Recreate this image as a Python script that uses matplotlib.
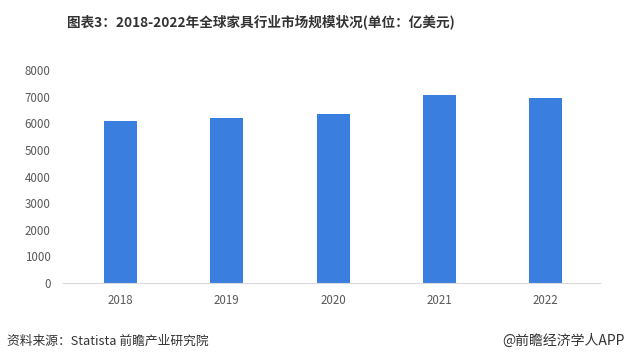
import matplotlib.pyplot as plt

plt.rcParams['font.family'] = ['Noto Sans CJK SC', 'DejaVu Sans']

# 2018-2022 global furniture market size (100m USD)
years = ['2018', '2019', '2020', '2021', '2022']
market_size = [6100, 6220, 6350, 7070, 6940]
yticks = [0, 1000, 2000, 3000, 4000, 5000, 6000, 7000, 8000]

fig = plt.figure(figsize=(6.27, 3.62), dpi=100)
ax = fig.add_axes([0.1005, 0.218, 0.8565, 0.588])

ax.bar(range(len(years)), market_size, width=0.31, color='#3a7fe0')

ax.set_xlim(-0.54, 4.51)
ax.set_ylim(0, 8000)
ax.set_yticks(yticks)
ax.set_xticks(range(len(years)))
ax.set_xticklabels(years)
ax.tick_params(axis='both', length=0, labelsize=8.3, labelcolor='#595959')
ax.tick_params(axis='y', pad=9)
ax.tick_params(axis='x', pad=8)

for side in ['top', 'right', 'left']:
    ax.spines[side].set_visible(False)
ax.spines['bottom'].set_color('#d9d9d9')

fig.text(261 / 627, 1 - 22 / 362, '图表3：2018-2022年全球家具行业市场规模状况(单位：亿美元)',
         ha='center', va='center', fontsize=9.8, fontweight='bold', color='#333333')
fig.text(7 / 627, 1 - 341 / 362, '资料来源：Statista 前瞻产业研究院',
         ha='left', va='center', fontsize=9.2, color='#333333')
fig.text(625 / 627, 1 - 341 / 362, '@前瞻经济学人APP',
         ha='right', va='center', fontsize=10, color='#333333')

fig.savefig('out.png', dpi=100)
